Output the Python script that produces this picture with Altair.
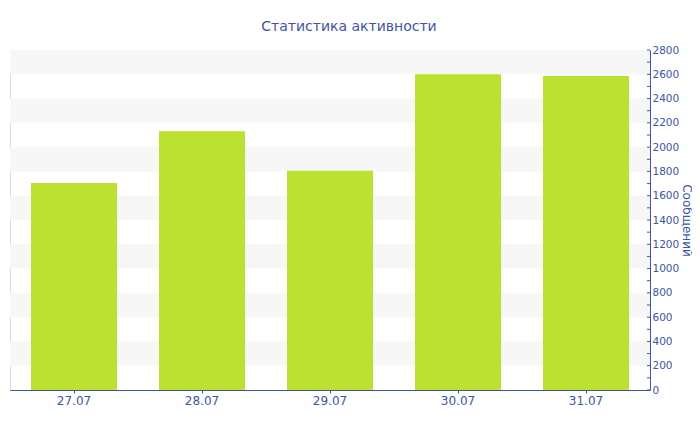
import altair as alt
import pandas as pd

dates = ["27.07", "28.07", "29.07", "30.07", "31.07"]
values = [1705, 2130, 1805, 2600, 2585]

band_lo = [200, 600, 1000, 1400, 1800, 2200, 2600]
band_hi = [400, 800, 1200, 1600, 2000, 2400, 2800]

tick_vals = list(range(0, 2801, 100))
label_vals = list(range(0, 2801, 200))

BLUE = "#3d55a3"
FONT = "DejaVu Sans"

df = pd.DataFrame({"date": dates, "value": values})
bands = pd.DataFrame({"lo": band_lo, "hi": band_hi})
ticks = pd.DataFrame({"v": tick_vals})

yscale = alt.Scale(domain=[0, 2800], nice=False, zero=True)

y_axis = alt.Axis(
    orient="right",
    title="Сообщений",
    titleColor=BLUE,
    titleFont=FONT,
    titleFontSize=12,
    titleFontWeight="normal",
    titleX=36,
    titleBaseline="middle",
    values=label_vals,
    format="d",
    labelOverlap=False,
    labelColor=BLUE,
    labelFont=FONT,
    labelFontSize=10.5,
    labelPadding=2,
    domainColor=BLUE,
    ticks=False,
    grid=False,
)

band_layer = alt.Chart(bands).mark_rect(color="#f7f7f7").encode(
    y=alt.Y("lo:Q", scale=yscale, axis=y_axis),
    y2="hi:Q",
)

bars = alt.Chart(df).mark_bar(color="#bde130").encode(
    x=alt.X(
        "date:N",
        sort=dates,
        scale=alt.Scale(paddingInner=0.328, paddingOuter=0.164),
        axis=alt.Axis(
            title=None,
            labelAngle=0,
            labelColor=BLUE,
            labelFont=FONT,
            labelFontSize=12,
            domainColor=BLUE,
            tickColor=BLUE,
            tickSize=3,
            labelPadding=2,
            grid=False,
        ),
    ),
    y=alt.Y("value:Q", scale=yscale, axis=y_axis),
)

tick_layer = alt.Chart(ticks).mark_rule(color=BLUE, strokeWidth=1).encode(
    y=alt.Y("v:Q", scale=yscale, axis=y_axis),
    x=alt.value(637),
    x2=alt.value(640),
)

chart = alt.layer(band_layer, bars, tick_layer).properties(
    width=640,
    height=340,
    padding={"left": 2, "top": 42, "right": 42, "bottom": 28},
    autosize=alt.AutoSizeParams(type="none"),
    title=alt.TitleParams(
        text="Статистика активности",
        font=FONT,
        fontSize=14,
        fontWeight="normal",
        color=BLUE,
        anchor="middle",
        dx=19,
        offset=11,
    ),
).configure_view(stroke=None).configure(background="white")

chart.save("out.html", embed_options={"renderer": "svg", "actions": False})
